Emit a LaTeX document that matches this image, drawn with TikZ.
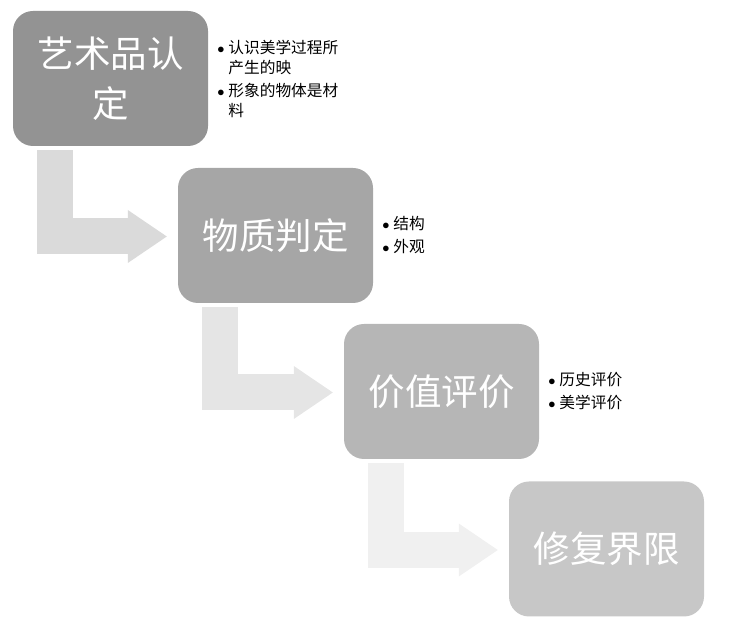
\documentclass[tikz,border=0pt]{standalone}
\usepackage{fontspec}
\newfontfamily\cjk{Noto Sans CJK SC}
\usepackage{xcolor}
\definecolor{stageA}{HTML}{939393}
\definecolor{stageB}{HTML}{A6A6A6}
\definecolor{stageC}{HTML}{B6B6B6}
\definecolor{stageD}{HTML}{C7C7C7}
\definecolor{bendA}{HTML}{DADADA}
\definecolor{bendB}{HTML}{E5E5E5}
\definecolor{bendC}{HTML}{F0F0F0}
\usetikzlibrary{arrows.meta,positioning,calc}
\newcommand{\itm}{\makebox[11pt][l]{$\bullet$}}
\newcommand{\hang}{\hspace*{11pt}}

\begin{document}
\begin{tikzpicture}[
  x=1pt, y=1pt,
  stage/.style={rectangle, rounded corners=20pt, minimum width=195pt, minimum height=135pt,
                inner sep=0pt, text=white, align=center, font=\cjk\fontsize{36.5}{50}\selectfont},
  note/.style={anchor=west, align=left, inner sep=0pt, font=\cjk\fontsize{15.7}{20}\selectfont},
  bendarrow/.style={line width=36pt, -{Triangle[length=39pt, width=53pt, line width=0pt]}},
]
\useasboundingbox (0,0) rectangle (730,628);

% ---------- the four stages, stepping down to the right
\node[stage, fill=stageA] (s1) at (110.5,549.5) {艺术品认\\定};
\node[stage, fill=stageB] (s2) at (275.5,392.5) {物质判定};
\node[stage, fill=stageC] (s3) at (441.5,236.5) {价值评价};
\node[stage, fill=stageD] (s4) at (606.5,79) {修复界限};

% ---------- bent arrows between the stages
\foreach \a/\b/\c in {1/2/bendA, 2/3/bendB, 3/4/bendC}
  \draw[bendarrow, \c] ([xshift=42pt, yshift=-4pt]s\a.south west) |- ([xshift=-11pt, yshift=-1pt]s\b.west);

% ---------- notes beside the stages
\node[note] (n1) at ([xshift=9pt]s1.east)
  {\itm 认识美学过程所\\ \hang 产生的映\\[3pt] \itm 形象的物体是材\\ \hang 料};
\node[note] (n2) at ([xshift=9pt]s2.east) {\itm 结构\\[3pt] \itm 外观};
\node[note] (n3) at ([xshift=9pt]s3.east) {\itm 历史评价\\[3pt] \itm 美学评价};
\end{tikzpicture}
\end{document}
